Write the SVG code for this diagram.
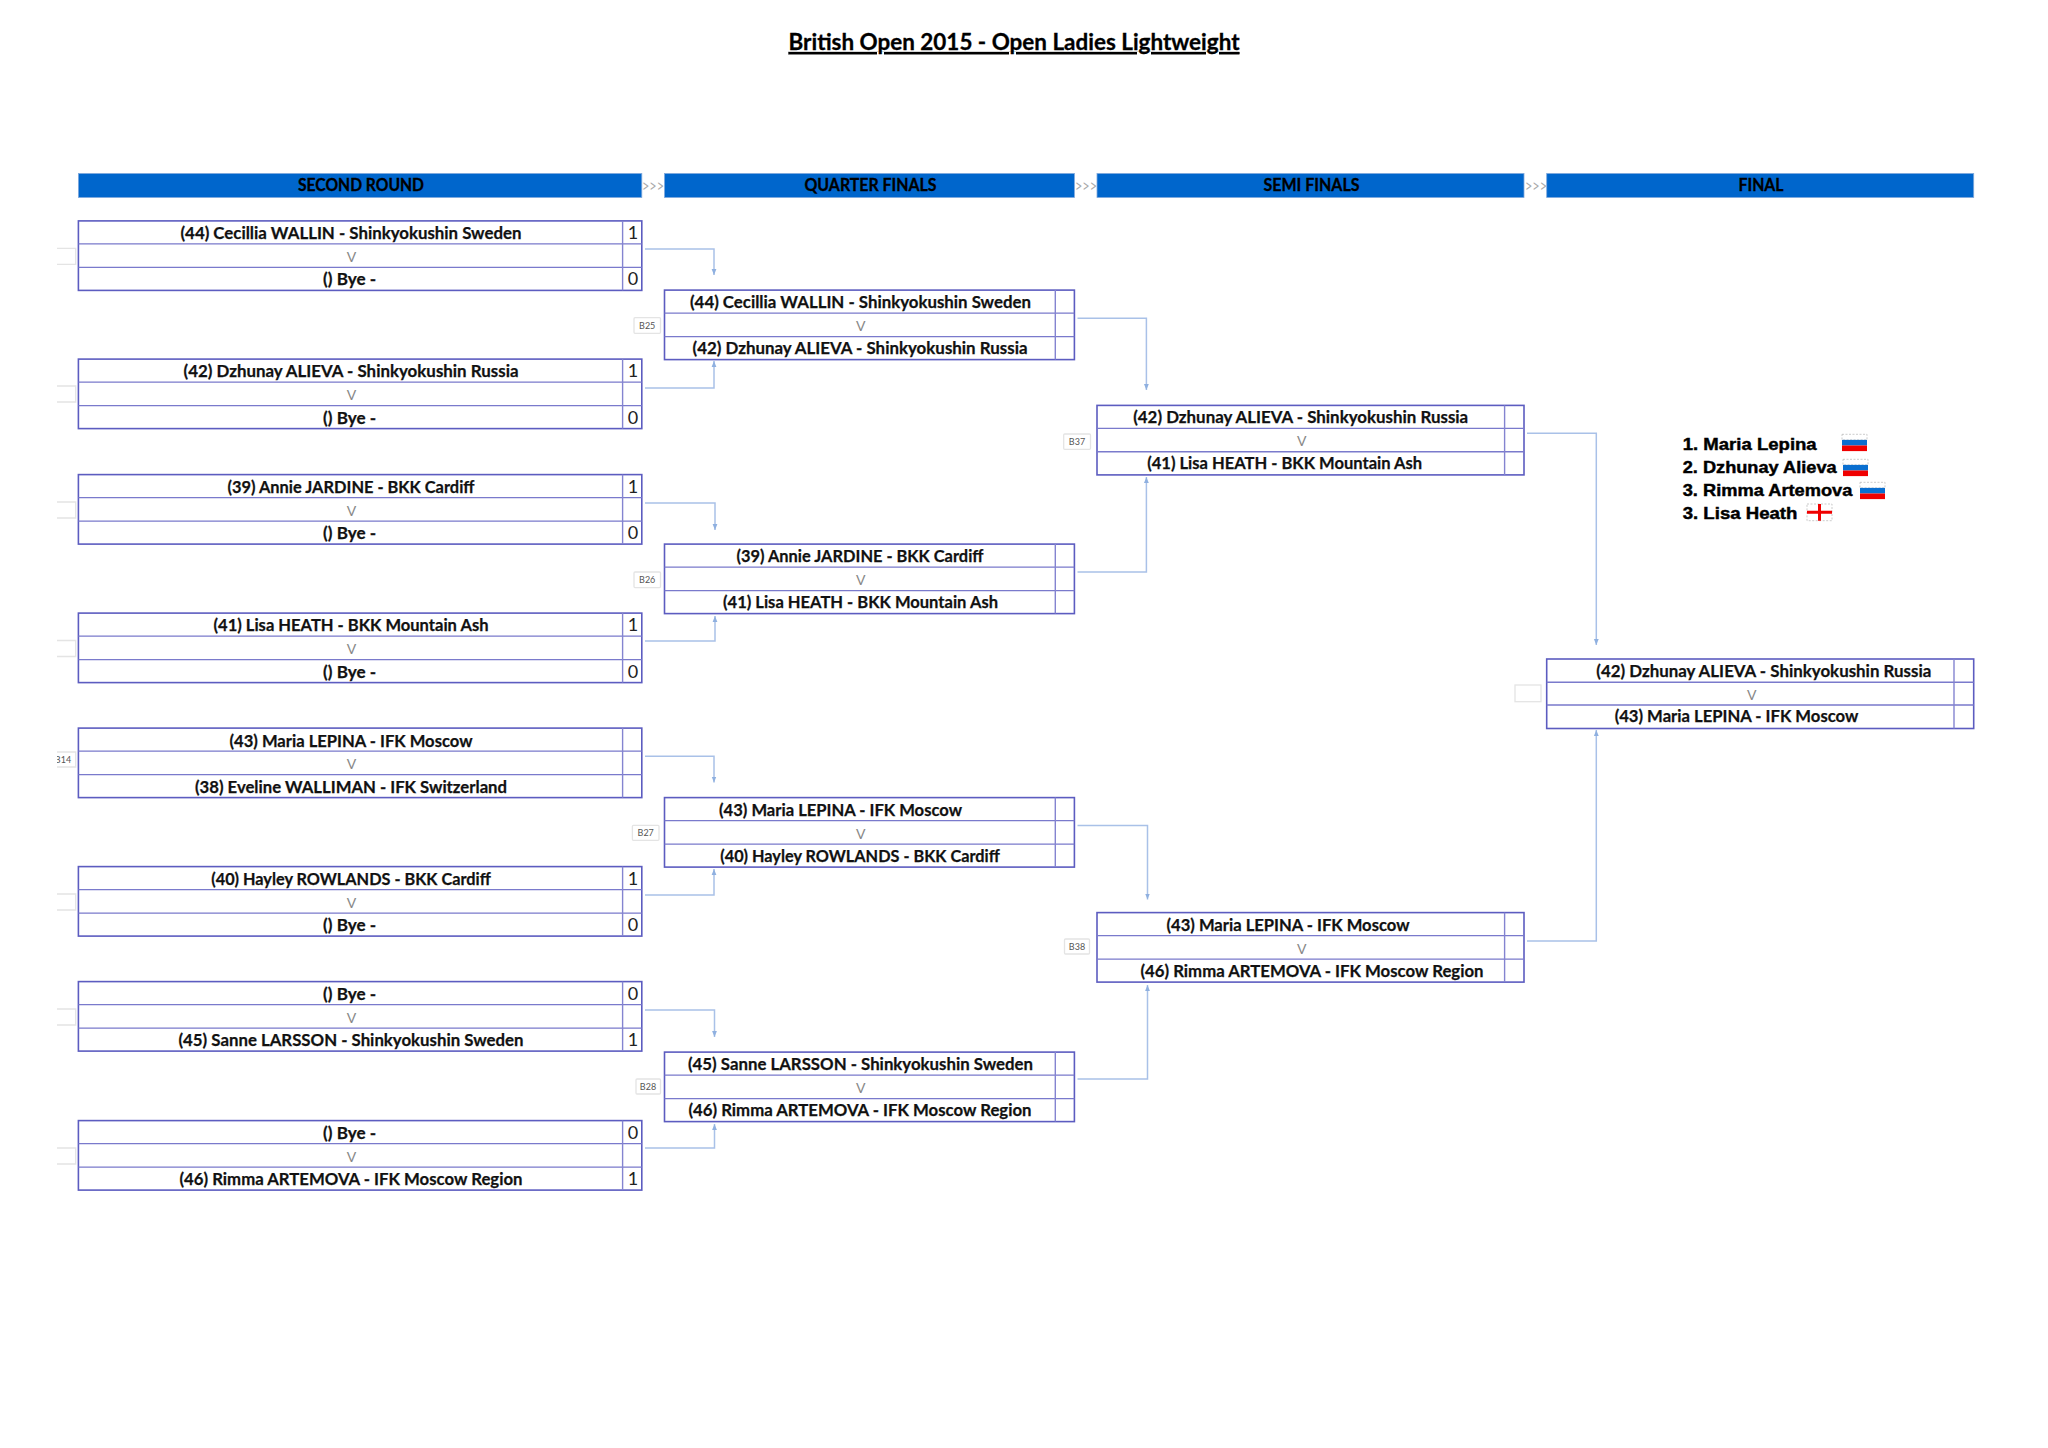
<svg xmlns="http://www.w3.org/2000/svg" width="2048" height="1448" viewBox="0 0 2048 1448">
<style>
text{font-family:"Lato","Liberation Sans",sans-serif;fill:#111}
.n{font-size:17.5px;font-weight:700;text-anchor:middle;stroke:#111;stroke-width:.25}
.s{font-size:18px;text-anchor:middle;fill:#222}
.v{font-size:14px;text-anchor:middle;fill:#888}
.h{font-size:16.5px;font-weight:700;text-anchor:middle;fill:#000;stroke:#000;stroke-width:.3}
.a{font-size:18px;fill:#aaa}
.t{font-size:22.5px;font-weight:700;text-anchor:middle;text-decoration:underline;fill:#000;stroke:#000;stroke-width:.3}
.p{font-family:"Liberation Sans",Arial,sans-serif;font-size:17px;font-weight:700;fill:#000;stroke:#000;stroke-width:.45}
.l{font-size:9px;text-anchor:middle;fill:#555}
.o{fill:#fff;stroke:#5c5cc0;stroke-width:1.6;transform:translateY(.6px)}
.i{stroke:#7a7acc;stroke-width:1.4;fill:none;transform:translateY(.6px)}
.d{stroke:#8484d0;stroke-width:1.4;fill:none;transform:translateY(.6px)}
.tag{fill:#fff;stroke:#e4e4e4;stroke-width:1.3}
.c{fill:none;stroke:#a9c1e8;stroke-width:1.5;marker-end:url(#ah)}
.bar{fill:#0066cc;stroke:#7fa8dc;stroke-width:.8}
.fb{fill:#fff;stroke:#aaa;stroke-width:.6;stroke-dasharray:2 1.5}
</style>
<defs>
<marker id="ah" markerUnits="userSpaceOnUse" markerWidth="6" markerHeight="6" refX="6" refY="3" orient="auto" viewBox="0 0 6 6"><path d="M0 .6L6 3L0 5.4Z" fill="#8fb0e0"/></marker>
<clipPath id="lc"><rect x="57" y="200" width="30" height="1000"/></clipPath>
</defs>
<rect width="2048" height="1448" fill="#fff"/>

<g id="title"><text class="t" x="1014" y="50" textLength="451" lengthAdjust="spacingAndGlyphs">British Open 2015 - Open Ladies Lightweight</text></g>

<g id="headers">
<rect class="bar" x="78.4" y="173.5" width="563.4" height="24"/>
<rect class="bar" x="664.5" y="173.5" width="409.9" height="24"/>
<rect class="bar" x="1097" y="173.5" width="427" height="24"/>
<rect class="bar" x="1546.7" y="173.5" width="427" height="24"/>
<text class="h" x="361" y="190.7" textLength="126" lengthAdjust="spacingAndGlyphs">SECOND ROUND</text>
<text class="h" x="870.5" y="190.7" textLength="132" lengthAdjust="spacingAndGlyphs">QUARTER FINALS</text>
<text class="h" x="1311.5" y="190.7" textLength="96" lengthAdjust="spacingAndGlyphs">SEMI FINALS</text>
<text class="h" x="1761" y="190.7" textLength="45" lengthAdjust="spacingAndGlyphs">FINAL</text>
<text class="a" x="642" y="192" textLength="22" lengthAdjust="spacingAndGlyphs">&gt;&gt;&gt;</text>
<text class="a" x="1075" y="192" textLength="22" lengthAdjust="spacingAndGlyphs">&gt;&gt;&gt;</text>
<text class="a" x="1525" y="192" textLength="22" lengthAdjust="spacingAndGlyphs">&gt;&gt;&gt;</text>
</g>

<g id="connectors">
<path class="c" d="M645 249H714V275"/>
<path class="c" d="M645 388H714V361"/>
<path class="c" d="M645 503H715V530"/>
<path class="c" d="M645 641H715V616"/>
<path class="c" d="M645 756.3H714V782.5"/>
<path class="c" d="M645 895H714V869"/>
<path class="c" d="M645 1010H714.5V1037"/>
<path class="c" d="M645 1148H714.5V1124"/>
<path class="c" d="M1077.5 318.3H1146.4V390"/>
<path class="c" d="M1077.5 572H1146.4V477"/>
<path class="c" d="M1077.5 825.5H1147.5V899.5"/>
<path class="c" d="M1077.5 1079H1147.5V985"/>
<path class="c" d="M1527 433.3H1596.3V645"/>
<path class="c" d="M1527 941H1596.3V730"/>
</g>

<g id="tags">
<path class="tag" d="M57 248.3H75.7V264.3H57"/>
<path class="tag" d="M57 386H75.7V402H57"/>
<path class="tag" d="M57 502H75.7V518H57"/>
<path class="tag" d="M57 640.5H75.7V656.5H57"/>
<path class="tag" d="M57 752H75.7V767H57"/>
<text class="l" x="63" y="763" clip-path="url(#lc)">B14</text>
<path class="tag" d="M57 894H75.7V910H57"/>
<path class="tag" d="M57 1009H75.7V1025H57"/>
<path class="tag" d="M57 1148H75.7V1164H57"/>
<rect class="tag" x="634" y="317.7" width="26.5" height="15.6" rx="1"/><text class="l" x="647.2" y="329">B25</text>
<rect class="tag" x="634" y="572" width="26.5" height="15.6" rx="1"/><text class="l" x="647.2" y="583">B26</text>
<rect class="tag" x="632.4" y="825.3" width="26.6" height="15" rx="1"/><text class="l" x="645.7" y="836">B27</text>
<rect class="tag" x="636" y="1079" width="24.5" height="15" rx="1"/><text class="l" x="648" y="1090">B28</text>
<rect class="tag" x="1063.7" y="434" width="26.8" height="15.3" rx="1"/><text class="l" x="1077" y="445.2">B37</text>
<rect class="tag" x="1064.5" y="939" width="25" height="15" rx="1"/><text class="l" x="1077" y="950">B38</text>
<rect class="tag" x="1515" y="685" width="26" height="16.7"/>
</g>

<g id="m1"><rect class="o" x="78.4" y="220.3" width="563.4" height="69.5"/><path class="i" d="M78.4 243.3H641.8M78.4 266.8H641.8"/><path class="d" d="M622.6 220.3V289.8"/>
<text class="n" x="351" y="238.8" textLength="341" lengthAdjust="spacingAndGlyphs">(44) Cecillia WALLIN - Shinkyokushin Sweden</text><text class="v" x="351.6" y="262">V</text><text class="n" x="349.6" y="285.3" textLength="53" lengthAdjust="spacingAndGlyphs">() Bye -</text><text class="s" x="633" y="238.8">1</text><text class="s" x="633" y="285.3">0</text></g>

<g id="m2"><rect class="o" x="78.4" y="358.5" width="563.4" height="69.5"/><path class="i" d="M78.4 381.5H641.8M78.4 405H641.8"/><path class="d" d="M622.6 358.5V428"/>
<text class="n" x="351" y="377" textLength="335" lengthAdjust="spacingAndGlyphs">(42) Dzhunay ALIEVA - Shinkyokushin Russia</text><text class="v" x="351.6" y="400.2">V</text><text class="n" x="349.6" y="423.5" textLength="53" lengthAdjust="spacingAndGlyphs">() Bye -</text><text class="s" x="633" y="377">1</text><text class="s" x="633" y="423.5">0</text></g>

<g id="m3"><rect class="o" x="78.4" y="474" width="563.4" height="69.5"/><path class="i" d="M78.4 497H641.8M78.4 520.5H641.8"/><path class="d" d="M622.6 474V543.5"/>
<text class="n" x="351" y="492.5" textLength="247" lengthAdjust="spacingAndGlyphs">(39) Annie JARDINE - BKK Cardiff</text><text class="v" x="351.6" y="515.7">V</text><text class="n" x="349.6" y="539" textLength="53" lengthAdjust="spacingAndGlyphs">() Bye -</text><text class="s" x="633" y="492.5">1</text><text class="s" x="633" y="539">0</text></g>

<g id="m4"><rect class="o" x="78.4" y="612.5" width="563.4" height="69.5"/><path class="i" d="M78.4 635.5H641.8M78.4 659H641.8"/><path class="d" d="M622.6 612.5V682"/>
<text class="n" x="351" y="631" textLength="275" lengthAdjust="spacingAndGlyphs">(41) Lisa HEATH - BKK Mountain Ash</text><text class="v" x="351.6" y="654.2">V</text><text class="n" x="349.6" y="677.5" textLength="53" lengthAdjust="spacingAndGlyphs">() Bye -</text><text class="s" x="633" y="631">1</text><text class="s" x="633" y="677.5">0</text></g>

<g id="m5"><rect class="o" x="78.4" y="727.5" width="563.4" height="69.5"/><path class="i" d="M78.4 750.5H641.8M78.4 774H641.8"/><path class="d" d="M622.6 727.5V797"/>
<text class="n" x="351" y="746.6" textLength="243" lengthAdjust="spacingAndGlyphs">(43) Maria LEPINA - IFK Moscow</text><text class="v" x="351.6" y="769.2">V</text><text class="n" x="351" y="792.5" textLength="312" lengthAdjust="spacingAndGlyphs">(38) Eveline WALLIMAN - IFK Switzerland</text></g>

<g id="m6"><rect class="o" x="78.4" y="866" width="563.4" height="69.5"/><path class="i" d="M78.4 889H641.8M78.4 912.5H641.8"/><path class="d" d="M622.6 866V935.5"/>
<text class="n" x="351" y="884.5" textLength="279.5" lengthAdjust="spacingAndGlyphs">(40) Hayley ROWLANDS - BKK Cardiff</text><text class="v" x="351.6" y="907.7">V</text><text class="n" x="349.6" y="931" textLength="53" lengthAdjust="spacingAndGlyphs">() Bye -</text><text class="s" x="633" y="884.5">1</text><text class="s" x="633" y="931">0</text></g>

<g id="m7"><rect class="o" x="78.4" y="981" width="563.4" height="69.5"/><path class="i" d="M78.4 1004H641.8M78.4 1027.5H641.8"/><path class="d" d="M622.6 981V1050.5"/>
<text class="n" x="349.6" y="999.5" textLength="53" lengthAdjust="spacingAndGlyphs">() Bye -</text><text class="v" x="351.6" y="1022.7">V</text><text class="n" x="351" y="1046" textLength="345" lengthAdjust="spacingAndGlyphs">(45) Sanne LARSSON - Shinkyokushin Sweden</text><text class="s" x="633" y="999.5">0</text><text class="s" x="633" y="1046">1</text></g>

<g id="m8"><rect class="o" x="78.4" y="1120" width="563.4" height="69.5"/><path class="i" d="M78.4 1143H641.8M78.4 1166.5H641.8"/><path class="d" d="M622.6 1120V1189.5"/>
<text class="n" x="349.6" y="1138.5" textLength="53" lengthAdjust="spacingAndGlyphs">() Bye -</text><text class="v" x="351.6" y="1161.7">V</text><text class="n" x="351" y="1185" textLength="343" lengthAdjust="spacingAndGlyphs">(46) Rimma ARTEMOVA - IFK Moscow Region</text><text class="s" x="633" y="1138.5">0</text><text class="s" x="633" y="1185">1</text></g>

<g id="q1"><rect class="o" x="664.5" y="289.5" width="409.9" height="69.5"/><path class="i" d="M664.5 312.5H1074.4M664.5 336H1074.4"/><path class="d" d="M1055.3 289.5V359"/>
<text class="n" x="860.5" y="308" textLength="341" lengthAdjust="spacingAndGlyphs">(44) Cecillia WALLIN - Shinkyokushin Sweden</text><text class="v" x="860.8" y="331">V</text><text class="n" x="860" y="354" textLength="335" lengthAdjust="spacingAndGlyphs">(42) Dzhunay ALIEVA - Shinkyokushin Russia</text></g>

<g id="q2"><rect class="o" x="664.5" y="543.5" width="409.9" height="69.5"/><path class="i" d="M664.5 566.5H1074.4M664.5 590H1074.4"/><path class="d" d="M1055.3 543.5V613"/>
<text class="n" x="860" y="562" textLength="247" lengthAdjust="spacingAndGlyphs">(39) Annie JARDINE - BKK Cardiff</text><text class="v" x="860.8" y="585">V</text><text class="n" x="860.5" y="608" textLength="275" lengthAdjust="spacingAndGlyphs">(41) Lisa HEATH - BKK Mountain Ash</text></g>

<g id="q3"><rect class="o" x="664.5" y="797" width="409.9" height="69.5"/><path class="i" d="M664.5 820H1074.4M664.5 843.5H1074.4"/><path class="d" d="M1055.3 797V866.5"/>
<text class="n" x="840.5" y="816" textLength="243" lengthAdjust="spacingAndGlyphs">(43) Maria LEPINA - IFK Moscow</text><text class="v" x="860.8" y="838.5">V</text><text class="n" x="860" y="862" textLength="279.5" lengthAdjust="spacingAndGlyphs">(40) Hayley ROWLANDS - BKK Cardiff</text></g>

<g id="q4"><rect class="o" x="664.5" y="1051.5" width="409.9" height="69.5"/><path class="i" d="M664.5 1074.5H1074.4M664.5 1098H1074.4"/><path class="d" d="M1055.3 1051.5V1121"/>
<text class="n" x="860.5" y="1070" textLength="345" lengthAdjust="spacingAndGlyphs">(45) Sanne LARSSON - Shinkyokushin Sweden</text><text class="v" x="860.8" y="1093">V</text><text class="n" x="860" y="1116" textLength="343" lengthAdjust="spacingAndGlyphs">(46) Rimma ARTEMOVA - IFK Moscow Region</text></g>

<g id="s1"><rect class="o" x="1097" y="404.8" width="427" height="69.5"/><path class="i" d="M1097 427.8H1524M1097 451.2H1524"/><path class="d" d="M1504.6 404.8V474.3"/>
<text class="n" x="1300.7" y="423.3" textLength="335" lengthAdjust="spacingAndGlyphs">(42) Dzhunay ALIEVA - Shinkyokushin Russia</text><text class="v" x="1301.8" y="446.3">V</text><text class="n" x="1284.7" y="469.3" textLength="275" lengthAdjust="spacingAndGlyphs">(41) Lisa HEATH - BKK Mountain Ash</text></g>

<g id="s2"><rect class="o" x="1097" y="912" width="427" height="69.5"/><path class="i" d="M1097 935H1524M1097 958.5H1524"/><path class="d" d="M1504.6 912V981.5"/>
<text class="n" x="1288" y="930.5" textLength="243" lengthAdjust="spacingAndGlyphs">(43) Maria LEPINA - IFK Moscow</text><text class="v" x="1301.8" y="953.5">V</text><text class="n" x="1312" y="977" textLength="343" lengthAdjust="spacingAndGlyphs">(46) Rimma ARTEMOVA - IFK Moscow Region</text></g>

<g id="f1"><rect class="o" x="1546.7" y="658.4" width="427" height="69.5"/><path class="i" d="M1546.7 681.6H1973.7M1546.7 704.4H1973.7"/><path class="d" d="M1954 658.4V727.9"/>
<text class="n" x="1763.8" y="677.2" textLength="335" lengthAdjust="spacingAndGlyphs">(42) Dzhunay ALIEVA - Shinkyokushin Russia</text><text class="v" x="1751.7" y="699.5">V</text><text class="n" x="1736.5" y="722.3" textLength="243.7" lengthAdjust="spacingAndGlyphs">(43) Maria LEPINA - IFK Moscow</text></g>

<g id="results">
<text class="p" x="1682.7" y="450" textLength="134" lengthAdjust="spacingAndGlyphs">1. Maria Lepina</text>
<text class="p" x="1682.7" y="473.3" textLength="154" lengthAdjust="spacingAndGlyphs">2. Dzhunay Alieva</text>
<text class="p" x="1682.7" y="496.3" textLength="169.7" lengthAdjust="spacingAndGlyphs">3. Rimma Artemova</text>
<text class="p" x="1682.7" y="519.3" textLength="114.7" lengthAdjust="spacingAndGlyphs">3. Lisa Heath</text>
<rect class="fb" x="1842" y="434.3" width="25" height="5.6"/><rect x="1842" y="439.9" width="25" height="5.6" fill="#0a6fd0"/><rect x="1842" y="445.5" width="25" height="5.6" fill="#f00000"/>
<rect class="fb" x="1843" y="459.3" width="25" height="5.6"/><rect x="1843" y="464.9" width="25" height="5.6" fill="#0a6fd0"/><rect x="1843" y="470.5" width="25" height="5.6" fill="#f00000"/>
<rect class="fb" x="1860" y="482.3" width="25" height="5.6"/><rect x="1860" y="487.9" width="25" height="5.6" fill="#0a6fd0"/><rect x="1860" y="493.5" width="25" height="5.6" fill="#f00000"/>
<rect class="fb" x="1807" y="504" width="25" height="16.7"/><path d="M1819.5 504V520.7M1807 512.3H1832" stroke="#f00000" stroke-width="3" fill="none"/>
</g>
</svg>
